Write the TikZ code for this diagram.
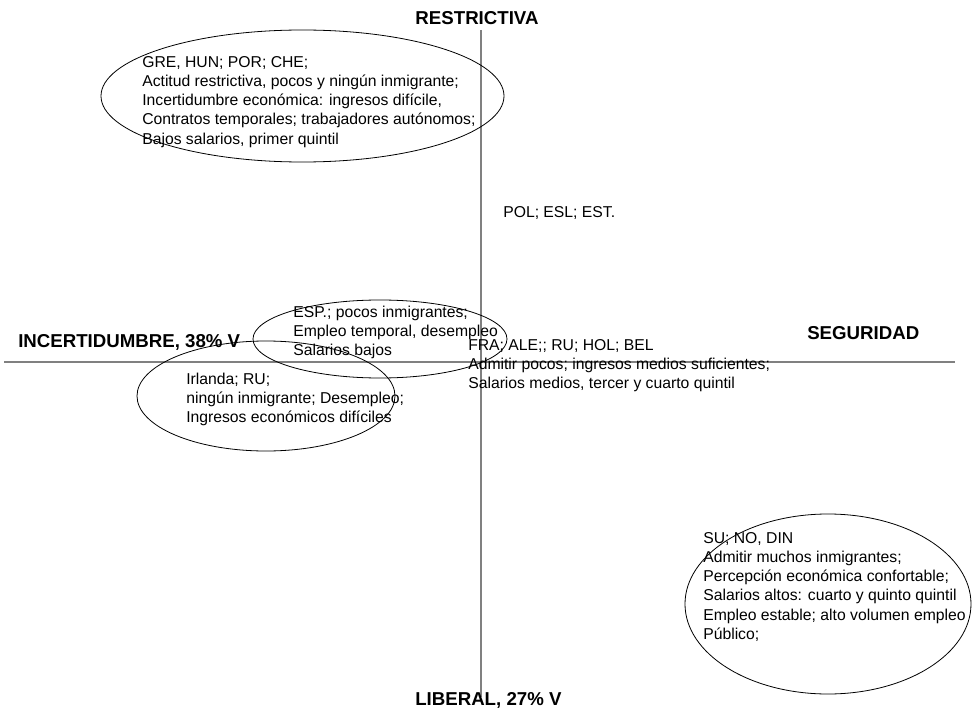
\documentclass[tikz,border=0pt]{standalone}
\usepackage{fontspec}
\setmainfont{Liberation Sans}
\begin{document}
\begin{tikzpicture}[x=0.75pt, y=-0.75pt, font=\fontsize{11.8}{14.3}\selectfont]
    % Mapa de actitudes: ejes y grupos de paises
    \tikzset{axisline/.style={draw=black!50, line width=1.1pt}, groupline/.style={draw=black, line width=0.6pt}, grouptext/.style={anchor=north west, align=left, inner sep=0pt}, pole/.style={font=\fontsize{14}{15}\selectfont\bfseries, inner sep=0pt}}
    \useasboundingbox (0,0) rectangle (972,710);
    \coordinate (top) at (481,30); \coordinate (bottom) at (481,697);
    \coordinate (left) at (4,362); \coordinate (right) at (955,362);
    \draw[axisline] (top) -- (bottom); \draw[axisline] (left) -- (right);
    \node[pole] (restr) at (477,18) {RESTRICTIVA};
    \node[pole, anchor=west] (incert) at (18,342) {INCERTIDUMBRE, 38\% V};
    \node[pole, anchor=west] (segur) at (807,333) {SEGURIDAD};
    \node[pole, anchor=west] (liber) at (415,700) {LIBERAL, 27\% V};
    \draw[groupline] (302.5,96) ellipse (201.5 and 66);
    \draw[groupline] (380,339) ellipse (127 and 39);
    \draw[groupline] (266,396) ellipse (129 and 55);
    \draw[groupline] (828,604) ellipse (143 and 90);
    \node[grouptext] (gre) at (142,56.5) {GRE, HUN; POR; CHE;\\Actitud restrictiva, pocos y ningún inmigrante;\\Incertidumbre económica: ingresos difícile,\\Contratos temporales; trabajadores autónomos;\\Bajos salarios, primer quintil};
    \node[grouptext] (pol) at (503,206.5) {POL; ESL; EST.};
    \node[grouptext] (esp) at (293,305.5) {ESP.; pocos inmigrantes;\\Empleo temporal, desempleo\\Salarios bajos};
    \node[grouptext] (fra) at (468,339.5) {FRA; ALE;; RU; HOL; BEL\\Admitir pocos; ingresos medios suficientes;\\Salarios medios, tercer y cuarto quintil};
    \node[grouptext] (irl) at (186,372.5) {Irlanda; RU;\\ningún inmigrante; Desempleo;\\Ingresos económicos difíciles};
    \node[grouptext] (su) at (703,532.5) {SU; NO, DIN\\Admitir muchos inmigrantes;\\Percepción económica confortable;\\Salarios altos: cuarto y quinto quintil\\Empleo estable; alto volumen empleo\\Público;};
\end{tikzpicture}
\end{document}
